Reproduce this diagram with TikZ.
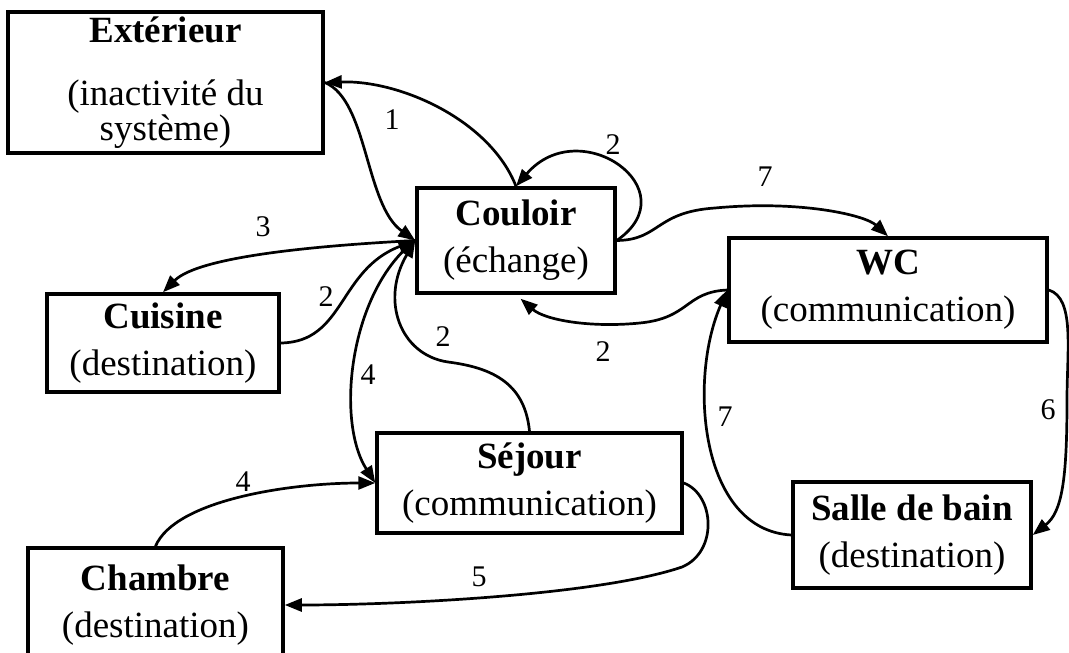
\documentclass[tikz,border=0pt]{standalone}
\usepackage{fontspec}
\setmainfont{Liberation Serif}
\usetikzlibrary{arrows.meta}

\begin{document}
\begin{tikzpicture}[x=1pt, y=-1pt, >={Triangle[length=17pt,width=13pt]},
                    piece/.style={draw, line width=3.5pt, inner sep=0pt, align=center, font=\fontsize{37}{47}\selectfont},
                    lien/.style={->, line width=2.7pt},
                    num/.style={font=\fontsize{30}{30}\selectfont}]
                    \useasboundingbox (0,0) rectangle (1069,653);

                    \node[piece, minimum width=315pt, minimum height=141pt, font=\fontsize{37}{33}\selectfont] (exterieur) at (165.5,82.5) {\textbf{Extérieur}\\[30pt](inactivité du\\système)};
                    \node[piece, minimum width=198pt, minimum height=105pt] (couloir) at (516,240.5) {\textbf{Couloir}\\(échange)};
                    \node[piece, minimum width=318pt, minimum height=104pt] (wc) at (888,290) {\textbf{WC}\\(communication)};
                    \node[piece, minimum width=232pt, minimum height=98pt] (cuisine) at (163,343) {\textbf{Cuisine}\\(destination)};
                    \node[piece, minimum width=305pt, minimum height=100pt] (sejour) at (529.5,483) {\textbf{Séjour}\\(communication)};
                    \node[piece, minimum width=238pt, minimum height=106pt] (bain) at (912,535) {\textbf{Salle de bain}\\(destination)};
                    \node[piece, minimum width=255pt, minimum height=114pt] (chambre) at (155.5,605) {\textbf{Chambre}\\(destination)};

                    \draw[lien] (couloir.north) .. controls (490,120) and (400,80) .. (exterieur.east);
                    \draw[lien] (exterieur.east) .. controls (368,100) and (365,205) .. (couloir.west);
                    \draw[lien] (couloir.east) .. controls (690,190) and (580,112) .. (couloir.north);
                    \draw[lien] (couloir.east) .. controls (660,240) and (655,212) .. (715,208) .. controls (800,200) and (865,215) .. (wc.north);
                    \draw[lien, shorten >=6pt] (wc.west) .. controls (685,292) and (690,318) .. (640,323) .. controls (590,328) and (545,320) .. (couloir.south);
                    \draw[lien] (couloir.west) .. controls (330,245) and (200,255) .. (cuisine.north);
                    \draw[lien] (cuisine.east) .. controls (345,342) and (338,270) .. (couloir.west);
                    \draw[lien] (couloir.west) .. controls (350,290) and (335,420) .. (sejour.west);
                    \draw[lien] (sejour.north) .. controls (525,385) and (495,368) .. (448,362) .. controls (400,355) and (380,300) .. (couloir.west);
                    \draw[lien] (chambre.north) .. controls (175,500) and (290,483) .. (sejour.west);
                    \draw[lien] (sejour.east) .. controls (715,495) and (718,552) .. (682,567) .. controls (600,595) and (400,605) .. (chambre.east);
                    \draw[lien] (wc.east) .. controls (1075,298) and (1067,350) .. (1067,400) .. controls (1067,480) and (1062,512) .. (bain.east);
                    \draw[lien] (bain.west) .. controls (700,530) and (688,380) .. (wc.west);

                    \foreach \nom/\x/\y/\txt in {n1/392/120/1, n2/613/145/2, n3/263/227/3, n4/326/297/2, n5/443/337/2,
                                                 n6/368/375/4, n7/243/482/4, n8/479/577/5, n9/603/352/2, n10/765/177/7,
                                                 n11/725/417/7, n12/1048/410/6} {
                        \node[num] (\nom) at (\x,\y) {\txt};
                    }
                \end{tikzpicture}
\end{document}
